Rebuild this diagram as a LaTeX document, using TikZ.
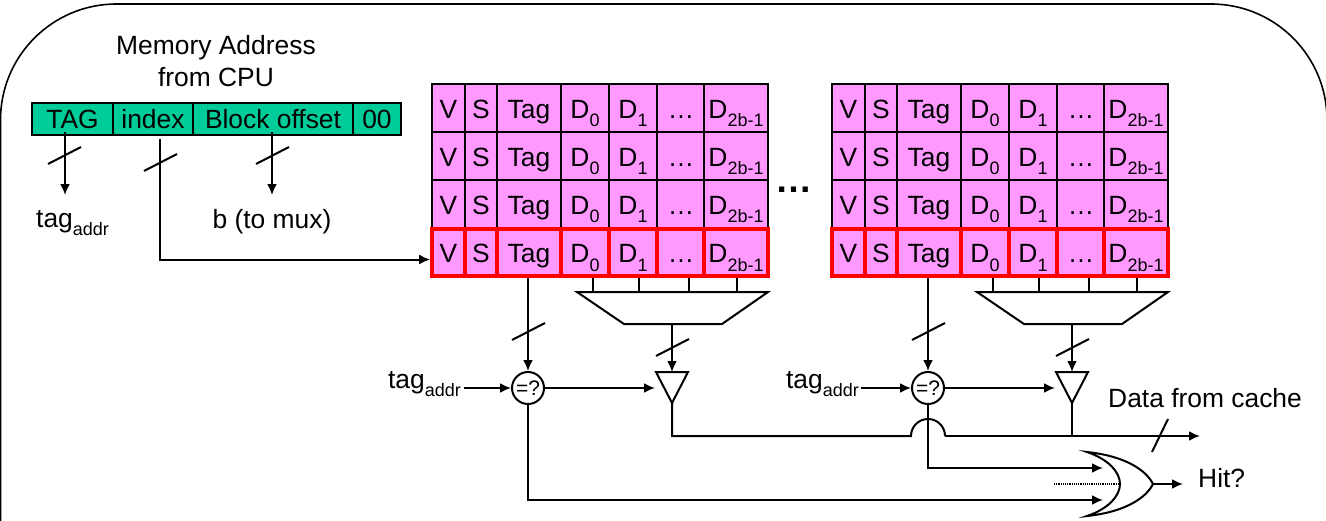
\documentclass[tikz,border=0pt]{standalone}
\usepackage{fontspec}
\setmainfont{Liberation Sans}
\usetikzlibrary{arrows.meta}
\newcommand{\lowtxt}[1]{\raisebox{-8.5pt}{\fontsize{18}{18}\selectfont #1}}
\definecolor{addrgreen}{HTML}{00CC99}
\definecolor{cellpink}{HTML}{FF99FF}
\tikzset{
	wire/.style={line width=2pt},
	flow/.style={wire,-{Latex[length=11pt,width=10pt]}},
	addrbox/.style={draw,line width=1.5pt,fill=addrgreen,inner sep=0pt,minimum height=32pt,text height=20pt,text depth=2pt},
	cellbox/.style={draw,line width=1.8pt,fill=cellpink,inner sep=0pt,minimum height=48pt,text height=22pt,text depth=2pt},
	hotbox/.style={cellbox,draw=red,line width=3.6pt,minimum height=47pt},
	cmpnode/.style={draw,wire,circle,fill=white,inner sep=0pt,minimum size=32pt,font=\fontsize{21}{21}\selectfont}
}
\begin{document}
\begin{tikzpicture}[x=1pt,y=-1pt,every node/.style={font=\fontsize{26.4}{32}\selectfont}]
	\useasboundingbox (0,0) rectangle (1326,520);
	\draw[line width=1.6pt,rounded corners=116pt] (0.5,540) -- (0.5,4) -- (1327,4) -- (1327,540);
	\node[align=center] (title) at (216,61) {Memory Address\\from CPU};
	\node[addrbox,minimum width=81pt] (tagf) at (72.5,119) {TAG};
	\node[addrbox,minimum width=80pt] (indexf) at (153,119) {index};
	\node[addrbox,minimum width=160pt] (blockf) at (273,119) {Block offset};
	\node[addrbox,minimum width=48pt] (zerof) at (377,119) {00};
	\node[anchor=base west,inner sep=0pt] (taglab) at (36,227) {tag\lowtxt{addr}};
	\node[anchor=base,inner sep=0pt] (blab) at (272,228) {b (to mux)};
	\foreach \o/\w in {0/a,400/b} {
		\foreach \y/\r in {108/1,156/2,204/3} {
			\foreach \x/\d/\c/\t in {448.5/33/v/V,481/32/s/S,529/64/g/Tag,585/48/p/D\lowtxt{0},633/48/q/D\lowtxt{1},681/48/e/\dots,736/64/z/D\lowtxt{2b-1}} {
				\node[cellbox,minimum width=\d pt] (\w\r\c) at (\o+\x,\y) {\t};
			}
		}
		\foreach \x/\d/\c/\t in {448.5/33/v/V,481/32/s/S,529/64/g/Tag,585/48/p/D\lowtxt{0},633/48/q/D\lowtxt{1},681/48/e/\dots,736/64/z/D\lowtxt{2b-1}} {
			\node[hotbox,minimum width=\d pt] (\w4\c) at (\o+\x,252.5) {\t};
		}
		\coordinate (mux\w) at (\o+672,324);
		\draw[wire,fill=white] (\o+577,292) -- (\o+768,292) -- (\o+722,324) -- (\o+624,324) -- cycle;
		\foreach \x in {593,639,689,737} {
			\coordinate (stub\w\x) at (\o+\x,292);
			\draw[wire] (stub\w\x) -- (\o+\x,278);
		}
		\node[cmpnode] (cmp\w) at (\o+528,388) {=?};
		\coordinate (buf\w) at (\o+672,372);
		\coordinate (bufin\w) at (\o+655,388);
		\coordinate (bufout\w) at (\o+672,403);
		\draw[wire] (\o+656,372) -- (\o+688,372) -- (bufout\w) -- cycle;
		\draw[flow] (cmp\w.north |- \w4g.south) -- (cmp\w.north);
		\draw[flow] (mux\w) -- (buf\w);
		\draw[flow] (cmp\w.east) -- (bufin\w);
		\draw[wire] (\o+512,340) -- (\o+545,323);
		\draw[wire] (\o+656,356) -- (\o+689,339);
	}
	\node[font=\fontsize{37}{37}\selectfont\bfseries] (gap) at (794,190) {\dots};
	\node[anchor=base east,inner sep=0pt] (taga) at (461,388) {tag\lowtxt{addr}};
	\node[anchor=base east,inner sep=0pt] (tagb) at (859,388) {tag\lowtxt{addr}};
	\draw[flow] (464,388) -- (cmpa.west);
	\draw[flow] (861,388) -- (cmpb.west);
	\coordinate (tagend) at (65,195);
	\coordinate (blockend) at (272,195);
	\draw[flow] ([xshift=-7.5pt,yshift=4pt]tagf.south) -- (tagend);
	\draw[flow] ([xshift=-1pt,yshift=4pt]blockf.south) -- (blockend);
	\draw[flow] ([xshift=7pt,yshift=-3pt]indexf.south) |- ([yshift=-7pt]a4v.west);
	\draw[wire] (48,164) -- (81,147);
	\draw[wire] (144,171) -- (177,154);
	\draw[wire] (256,164) -- (289,147);
	\node[anchor=base west,inner sep=0pt] (datalab) at (1108,407) {Data from cache};
	\coordinate (dataend) at (1200,436);
	\draw[wire] (bufouta) |- (911,436) arc[start angle=180,end angle=0,radius=17pt];
	\draw[flow] (945,436) -- (dataend);
	\draw[wire] (bufoutb) -- (1072,436);
	\draw[wire] (1152,452) -- (1168,419);
	\coordinate (orin1) at (1103,468);
	\coordinate (orin2) at (1103,500);
	\coordinate (orout) at (1153,484);
	\coordinate (hitend) at (1183,484);
	\draw[flow] (cmpb.south) |- (orin1);
	\draw[flow] (cmpa.south) |- (orin2);
	\draw[line width=1.2pt,densely dotted] (1054,484) -- (1118,484);
	\draw[wire] (1087,452) .. controls (1108,459) and (1120,472) .. (1120,484) .. controls (1120,496) and (1108,509) .. (1087,516) .. controls (1125,512) and (1146,498) .. (orout) .. controls (1146,470) and (1125,456) .. cycle;
	\draw[flow] (orout) -- (hitend);
	\node[anchor=base west,inner sep=0pt] (hitlab) at (1198,487) {Hit?};
\end{tikzpicture}
\end{document}
